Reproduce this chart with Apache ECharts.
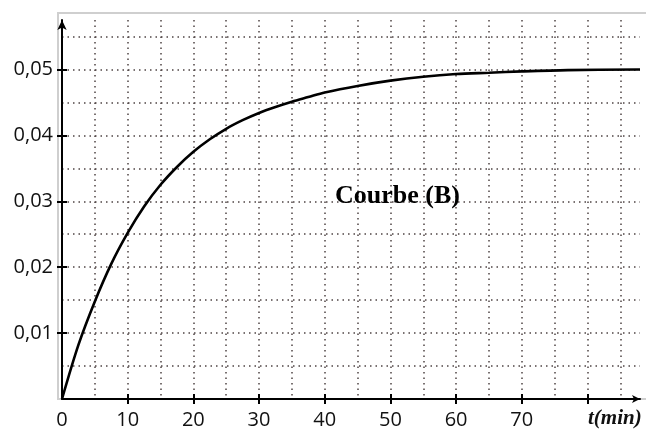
<!DOCTYPE html>
<html><head><meta charset="utf-8">
<script src="https://cdn.jsdelivr.net/npm/echarts@6/dist/echarts.min.js"></script>
<style>html,body{margin:0;padding:0;background:#fff}#c{width:646px;height:430px}</style>
</head><body><div id="c"></div>
<script>
// Data
const tMinutes      = [0, 2.5, 5, 7.5, 10, 12.5, 15, 17.5, 20, 22.5, 25, 27.5, 30, 32.5, 35, 37.5, 40, 45, 50, 55, 60, 65, 70, 77, 88];
const concentration = [0, 0.0082, 0.0148, 0.0205, 0.0252, 0.0292, 0.0325, 0.0352, 0.0375, 0.0394, 0.0410, 0.0423, 0.0434, 0.0443, 0.0451, 0.0458, 0.0465, 0.0475, 0.0483, 0.0489, 0.0493, 0.0495, 0.0497, 0.0499, 0.0500];
const xTickValues  = [10, 20, 30, 40, 50, 60, 70, 80];
const xLabelValues = [0, 10, 20, 30, 40, 50, 60, 70];
const yTickValues  = [0.01, 0.02, 0.03, 0.04, 0.05];
const yLabelValues = [0.01, 0.02, 0.03, 0.04, 0.05];
const curveLabel = 'Courbe (B)';
const xAxisTitle = 't(min)';

const X_MIN = 0, X_MAX = 88, X_GRID = 5;
const Y_MIN = 0, Y_MAX = 0.0575, Y_GRID = 0.005;

const seriesData = tMinutes.map((t, i) => [t, concentration[i]]);

const dotted = { color: '#4f4444', width: 1.5, type: [1.5, 4] };
const labelFont = { fontFamily: 'Open Sans', fontSize: 20, color: '#111' };
const fmtY = v => v.toFixed(2).replace('.', ',');

const chart = echarts.init(document.getElementById('c'), null, { renderer: 'canvas' });
chart.setOption({
  backgroundColor: '#ffffff',
  animation: false,
  grid: { left: 62, right: 6, top: 20, bottom: 31, containLabel: false, outerBoundsMode: 'none' },
  xAxis: [
    { type: 'value', position: 'bottom', min: X_MIN, max: X_MAX, interval: X_GRID,
      axisLine: { show: true, onZero: false, lineStyle: { color: '#000', width: 2 }, symbol: ['none', 'arrow'], symbolSize: [6, 8] },
      axisTick: { show: false }, axisLabel: { show: false },
      splitLine: { show: true, showMinLine: false, showMaxLine: false, lineStyle: dotted } },
    { type: 'value', position: 'bottom', min: X_MIN, max: X_MAX,
      axisLine: { show: false },
      axisTick: { show: true, inside: false, length: 5, customValues: xTickValues, lineStyle: { color: '#000', width: 2 } },
      axisLabel: Object.assign({ show: true, margin: 11, customValues: xLabelValues }, labelFont),
      splitLine: { show: false } },
    { type: 'value', position: 'bottom', min: X_MIN, max: X_MAX,
      axisLine: { show: false },
      axisTick: { show: true, inside: true, length: 5, customValues: xTickValues, lineStyle: { color: '#000', width: 2 } },
      axisLabel: { show: false }, splitLine: { show: false } }
  ],
  yAxis: [
    { type: 'value', position: 'left', min: Y_MIN, max: Y_MAX, interval: Y_GRID,
      axisLine: { show: true, onZero: false, lineStyle: { color: '#000', width: 2 }, symbol: ['none', 'arrow'], symbolSize: [7, 10] },
      axisTick: { show: false }, axisLabel: { show: false },
      splitLine: { show: true, showMinLine: false, showMaxLine: false, lineStyle: dotted } },
    { type: 'value', position: 'left', min: Y_MIN, max: Y_MAX,
      axisLine: { show: false },
      axisTick: { show: true, inside: false, length: 5, customValues: yTickValues, lineStyle: { color: '#000', width: 2 } },
      axisLabel: Object.assign({ show: true, margin: 9, customValues: yLabelValues, formatter: fmtY }, labelFont),
      splitLine: { show: false } },
    { type: 'value', position: 'left', min: Y_MIN, max: Y_MAX,
      axisLine: { show: false },
      axisTick: { show: true, inside: true, length: 5, customValues: yTickValues, lineStyle: { color: '#000', width: 2 } },
      axisLabel: { show: false }, splitLine: { show: false } }
  ],
  graphic: [
    { type: 'rect', z: -1, silent: true, shape: { x: 58, y: 13, width: 700, height: 386 },
      style: { fill: 'none', stroke: '#cfcfcf', lineWidth: 2 } },
    { type: 'text', z: 10, silent: true, x: 335, y: 196,
      style: { text: curveLabel, font: 'bold 26px "Liberation Serif", "Times New Roman", serif', fill: '#000', textAlign: 'left', textVerticalAlign: 'middle' } },
    { type: 'text', z: 10, silent: true, x: 588, y: 419,
      style: { text: xAxisTitle, font: 'italic bold 21px "Liberation Serif", "Times New Roman", serif', fill: '#111', textAlign: 'left', textVerticalAlign: 'middle' } }
  ],
  series: [{
    type: 'line', xAxisIndex: 0, yAxisIndex: 0, data: seriesData,
    smooth: 0.3, showSymbol: false, symbol: 'none',
    lineStyle: { color: '#000', width: 2.6 }, z: 5
  }]
});
</script>
</body></html>
